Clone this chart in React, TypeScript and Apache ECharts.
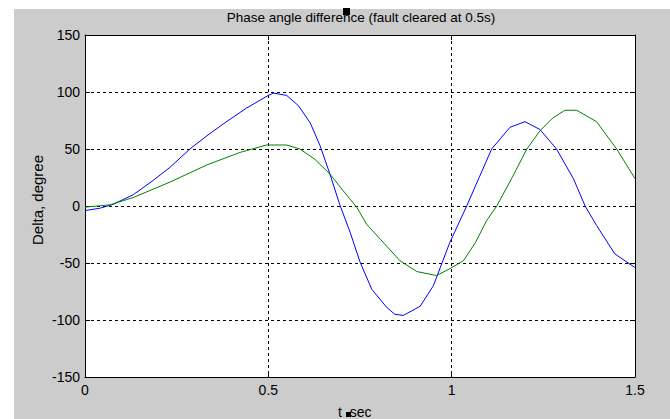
import React, { useEffect, useRef } from "react";
import * as echarts from "echarts";

const titleText = "Phase angle difference (fault cleared at 0.5s)";
const xLabel = "t_sec";
const yLabel = "Delta, degree";

const xTicks = [0, 0.5, 1, 1.5];
const yTicks = [-150, -100, -50, 0, 50, 100, 150];

const blueTime = [0, 0.04, 0.077, 0.132, 0.18, 0.232, 0.286, 0.33, 0.377, 0.441, 0.5, 0.514, 0.55, 0.582, 0.614, 0.641, 0.668, 0.695, 0.723, 0.75, 0.782, 0.823, 0.845, 0.868, 0.914, 0.95, 0.995, 1.041, 1.075, 1.109, 1.159, 1.2, 1.241, 1.286, 1.332, 1.364, 1.395, 1.445, 1.5];
const blueDelta = [-4, -2, 1.5, 10, 21, 34, 50, 61, 72, 86, 97, 99, 97, 88, 73, 53, 28, 1, -23, -49, -73, -89, -95, -96, -88, -70, -32, 0, 25, 50, 69, 74, 67, 50, 24, 0, -17, -42, -54];

const greenTime = [0, 0.068, 0.132, 0.232, 0.332, 0.423, 0.495, 0.55, 0.586, 0.627, 0.668, 0.705, 0.741, 0.768, 0.805, 0.859, 0.905, 0.959, 0.995, 1.032, 1.065, 1.095, 1.123, 1.165, 1.205, 1.241, 1.275, 1.309, 1.341, 1.395, 1.45, 1.5];
const greenDelta = [-1, 1, 7.5, 21, 36, 47, 53.5, 53.5, 50, 41, 28, 13, -1, -16, -29, -48, -57.5, -61, -55, -48, -32, -13, 0, 25, 50, 66, 77, 84, 84, 74, 50, 24];

const FONT = "Liberation Sans, Arial, sans-serif";

export default function App() {
  const ref = useRef<HTMLDivElement>(null);
  useEffect(() => {
    if (!ref.current) return;
    const chart = echarts.init(ref.current, undefined, { renderer: "svg" });
    const gridLine = { show: true, lineStyle: { color: "#000", type: [3, 3] as any, width: 1 } };
    const tick = { show: true, inside: true, length: 5, lineStyle: { color: "#000" } };
    const axisLine = { show: true, onZero: false, lineStyle: { color: "#000", width: 1 } };
    const label = { color: "#000", fontFamily: FONT, fontSize: 14 };
    chart.setOption({
      animation: false,
      backgroundColor: "#cccccc",
      grid: {
        left: 85,
        top: 35,
        width: 550,
        height: 342,
        show: true,
        backgroundColor: "#ffffff",
        borderWidth: 0,
      },
      xAxis: [
        {
          type: "value",
          min: xTicks[0],
          max: xTicks[xTicks.length - 1],
          interval: 0.5,
          position: "bottom",
          axisLine,
          axisTick: tick,
          splitLine: gridLine,
          axisLabel: { ...label, margin: 6 },
        },
        {
          type: "value",
          min: xTicks[0],
          max: xTicks[xTicks.length - 1],
          interval: 0.5,
          position: "top",
          axisLine,
          axisTick: tick,
          splitLine: { show: false },
          axisLabel: { show: false },
        },
      ],
      yAxis: [
        {
          type: "value",
          min: yTicks[0],
          max: yTicks[yTicks.length - 1],
          interval: 50,
          position: "left",
          axisLine,
          axisTick: tick,
          splitLine: gridLine,
          axisLabel: { ...label, margin: 5 },
        },
        {
          type: "value",
          min: yTicks[0],
          max: yTicks[yTicks.length - 1],
          interval: 50,
          position: "right",
          axisLine,
          axisTick: tick,
          splitLine: { show: false },
          axisLabel: { show: false },
        },
      ],
      graphic: [
        { type: "rect", shape: { x: 0, y: 0, width: 670, height: 9 }, style: { fill: "#ffffff" }, silent: true },
        { type: "rect", shape: { x: 0, y: 0, width: 14, height: 419 }, style: { fill: "#ffffff" }, silent: true },
        {
          type: "text",
          x: 361,
          y: 17,
          style: { text: titleText, fill: "#000", font: `13.5px ${FONT}`, textAlign: "center", textVerticalAlign: "middle" },
        },
        { type: "rect", shape: { x: 343, y: 8, width: 7, height: 7 }, style: { fill: "#000" } },
        {
          type: "text",
          x: 37,
          y: 200,
          rotation: Math.PI / 2,
          style: { text: yLabel, fill: "#000", font: `15px ${FONT}`, textAlign: "center", textVerticalAlign: "middle" },
        },
        {
          type: "text",
          x: 338,
          y: 412,
          style: { text: xLabel, fill: "#000", font: `14px ${FONT}`, textAlign: "left", textVerticalAlign: "middle" },
        },
        { type: "rect", shape: { x: 346, y: 412, width: 5, height: 5 }, style: { fill: "#000" } },
      ],
      series: [
        {
          type: "line",
          data: blueTime.map((t, i) => [t, blueDelta[i]]),
          showSymbol: false,
          lineStyle: { color: "#0000ff", width: 1 },
          itemStyle: { color: "#0000ff" },
        },
        {
          type: "line",
          data: greenTime.map((t, i) => [t, greenDelta[i]]),
          showSymbol: false,
          lineStyle: { color: "#008000", width: 1 },
          itemStyle: { color: "#008000" },
        },
      ],
    });
    return () => chart.dispose();
  }, []);
  return <div ref={ref} style={{ position: "fixed", left: 0, top: 0, width: 670, height: 419 }} />;
}
